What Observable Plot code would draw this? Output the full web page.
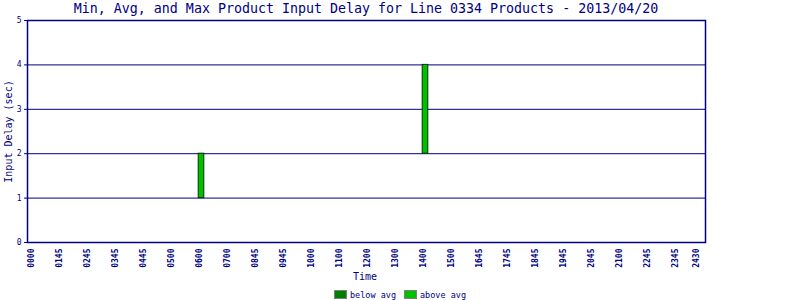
<!DOCTYPE html>
<html>
<head>
<meta charset="utf-8">
<script src="https://cdn.jsdelivr.net/npm/d3@7"></script>
<script src="https://cdn.jsdelivr.net/npm/@observablehq/plot@0.6"></script>
<style>
  html, body { margin: 0; padding: 0; background: #fff; width: 800px; height: 300px; overflow: hidden; }
  #title { height: 14px; line-height: 14px; padding-top: 1px; margin-bottom: -1px; font: 13.3px "DejaVu Sans Mono", monospace; color: #000080; white-space: nowrap; position: relative; }
  #title span { position: absolute; left: 366px; transform: translateX(-50%); top: 1px; }
  #legend { height: 15px; padding-top: 3px; display: flex; justify-content: center; align-items: center; gap: 8px; font: 8.5px "DejaVu Sans Mono", monospace; color: #000080; }
  .item { display: flex; align-items: center; gap: 3px; }
  .sw { width: 11px; height: 7px; border: 1px solid #808080; }
</style>
</head>
<body>
<div id="title"><span>Min, Avg, and Max Product Input Delay for Line 0334 Products - 2013/04/20</span></div>
<div id="chart"></div>
<div id="legend"></div>
<script>
// Tick labels along the time axis (category index positions)
const tickLabels = ["0000","0145","0245","0345","0445","0500","0600","0700","0845","0945","1000","1100","1200","1300","1400","1500","1645","1745","1845","1945","2045","2100","2245","2345","2430"];
const tickIndex  = [0,1,2,3,4,5,6,7,8,9,10,11,12,13,14,15,16,17,18,19,20,21,22,23,23.75];

// Series: bars with min, avg, max
const barTimes = ["0600","1400"];
const minVals  = [1, 2];
const avgVals  = [1, 2];
const maxVals  = [2, 4];

const yTicks = [0,1,2,3,4,5];

const navy = "#000080";
const belowColor = "#008000";
const aboveColor = "#00c000";

const labelPos = new Map(tickLabels.map((l, i) => [l, tickIndex[i]]));
const rows = barTimes.map((t, i) => ({t, x: labelPos.get(t), min: minVals[i], avg: avgVals[i], max: maxVals[i]}));
const half = 0.1;
const ticks = tickLabels.map((l, i) => ({l, x: tickIndex[i]}));

const plot = Plot.plot({
  width: 800,
  height: 270,
  marginLeft: 27,
  marginRight: 95,
  marginTop: 6,
  marginBottom: 42,
  style: {fontFamily: "DejaVu Sans Mono, monospace", color: navy, background: "#fff"},
  x: {domain: [-0.2143, 24], axis: null},
  y: {domain: [0, 5], axis: null},
  marks: [
    Plot.ruleY(yTicks.filter(v => v > 0 && v < 5), {stroke: navy, strokeWidth: 1}),
    Plot.axisY({ticks: yTicks, tickSize: 3, tickPadding: 3, stroke: navy, fill: navy, fontSize: 8, label: null, tickFormat: d => d}),
    Plot.rect(rows.filter(d => d.avg > d.min), {x1: d => d.x - half, x2: d => d.x + half, y1: "min", y2: "avg", fill: belowColor, stroke: "#003300"}),
    Plot.rect(rows.filter(d => d.max > d.avg), {x1: d => d.x - half, x2: d => d.x + half, y1: "avg", y2: "max", fill: aboveColor, stroke: "#003300"}),
    Plot.frame({stroke: navy, strokeWidth: 1.5}),
    Plot.text(ticks, {x: "x", text: "l", frameAnchor: "bottom", rotate: -90, textAnchor: "end", dy: 6, fill: navy, fontSize: 8, fontWeight: "bold"}),
    Plot.text(["Input Delay (sec)"], {frameAnchor: "left", rotate: -90, textAnchor: "middle", dx: -19, fill: navy, fontSize: 10}),
    Plot.text(["Time"], {frameAnchor: "bottom", x: 11.84, dy: 37, fill: navy, fontSize: 10})
  ]
});
document.getElementById("chart").appendChild(plot);

const legend = d3.select("#legend");
[["below avg", belowColor], ["above avg", aboveColor]].forEach(([name, c]) => {
  const it = legend.append("div").attr("class", "item");
  it.append("div").attr("class", "sw").style("background", c);
  it.append("span").text(name);
});
</script>
</body>
</html>
